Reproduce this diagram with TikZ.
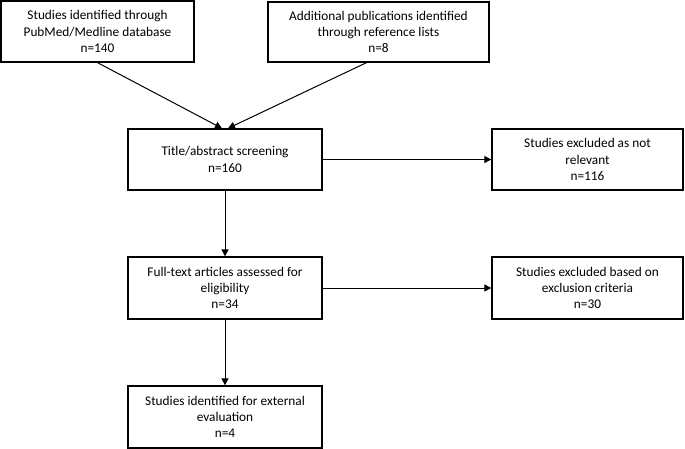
\documentclass[tikz,border=0pt]{standalone}
\usepackage{fontspec}
\setmainfont{Carlito}
\usetikzlibrary{arrows.meta}
\begin{document}
\begin{tikzpicture}[x=1pt,y=-1pt,
  box/.style={draw=black,line width=1.3pt,rectangle,align=center,inner sep=2pt,
    font=\fontsize{13.3}{16.2}\selectfont},
  arr/.style={draw=black,line width=1pt,-{Triangle[width=7pt,length=7pt]}}]
\useasboundingbox (0,0) rectangle (685,449);
\node[box,minimum width=193pt,minimum height=61pt] (a) at (97.5,31.5) {Studies identified through\\PubMed/Medline database\\n=140};
\node[box,minimum width=221pt,minimum height=60pt] (b) at (378.5,32) {Additional publications identified\\through reference lists\\n=8};
\node[box,minimum width=194pt,minimum height=61pt] (t) at (225,159.5) {Title/abstract screening\\n=160};
\node[box,minimum width=191pt,minimum height=61pt] (x1) at (587.5,159.5) {Studies excluded as not\\relevant\\n=116};
\node[box,minimum width=194pt,minimum height=62pt] (f) at (225,288) {Full-text articles assessed for\\eligibility\\n=34};
\node[box,minimum width=191pt,minimum height=62pt] (x2) at (587.5,288) {Studies excluded based on\\exclusion criteria\\n=30};
\node[box,minimum width=194pt,minimum height=62pt] (e) at (225,417) {Studies identified for external\\evaluation\\n=4};
\draw[arr] (a.south) -- ([xshift=-3pt]t.north);
\draw[arr] ([xshift=-12pt]b.south) -- ([xshift=3pt]t.north);
\draw[arr] (t.east) -- (x1.west);
\draw[arr] (t.south) -- (f.north);
\draw[arr] (f.east) -- (x2.west);
\draw[arr] (f.south) -- (e.north);
\end{tikzpicture}
\end{document}
